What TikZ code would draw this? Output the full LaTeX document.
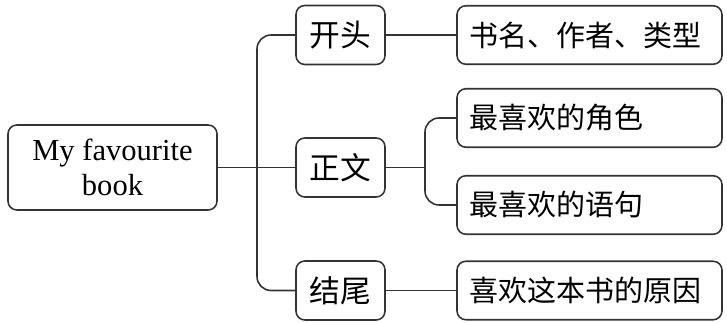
\documentclass[tikz,border=0pt]{standalone}
\usepackage{fontspec}
\setmainfont{Liberation Serif}
\newfontfamily\cjk{Noto Sans CJK SC}
\usetikzlibrary{positioning}

\begin{document}
\begin{tikzpicture}[x=0.02cm,y=-0.02cm,
  box/.style={draw=black!80,rounded corners=5pt,line width=0.9pt},
  part/.style={box,minimum width=1.78cm,minimum height=1.18cm,font=\cjk\fontsize{17.5}{21}\selectfont},
  item/.style={box,text width=4.8cm,align=left,inner xsep=0.25cm,minimum height=1.17cm,font=\cjk\fontsize{16.5}{20}\selectfont},
  link/.style={draw=black!80,line width=0.9pt}]
  \useasboundingbox (0,0) rectangle (727,323);
  \node[box,minimum width=4.18cm,minimum height=1.7cm,align=center,font=\fontsize{17.4}{20}\selectfont] (book) at (112.5,167.5) {My favourite\\book};
  \node[part] (start) at (340.5,35) {开头};
  \node[part] (body) at (340.5,167.5) {正文};
  \node[part] (end) at (340.5,290.5) {结尾};
  \node[item] (title) at (589.5,35) {书名、作者、类型};
  \node[item] (role) at (589.5,118) {最喜欢的角色};
  \node[item] (quote) at (589.5,205) {最喜欢的语句};
  \node[item] (reason) at (589.5,290.5) {喜欢这本书的原因};
  \coordinate (fork) at (257,167.5);
  \coordinate (subfork) at (425,167.5);
  \draw[link] (book.east) -- (body.west);
  \draw[link,rounded corners=8pt] (start.west) -| (fork) |- (end.west);
  \draw[link] (start.east) -- (title.west);
  \draw[link] (body.east) -- (subfork);
  \draw[link,rounded corners=8pt] (role.west) -| (subfork) |- (quote.west);
  \draw[link] (end.east) -- (reason.west);
\end{tikzpicture}
\end{document}
